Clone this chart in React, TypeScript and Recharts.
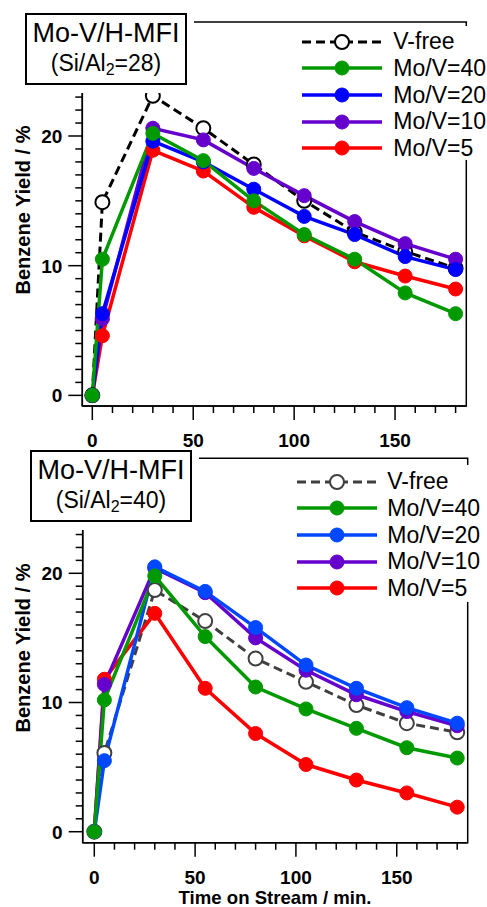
import React from 'react';
import { LineChart, Line, XAxis, YAxis, ReferenceArea } from 'recharts';

// ---------- data ----------
const times = [0, 5, 30, 55, 80, 105, 130, 155, 180];

// Panel A: Si/Al2 = 28
const a_vfree = [0, 14.9, 23.1, 20.6, 17.8, 15.0, 12.6, 11.1, 9.8];
const a_mv40 = [0, 10.5, 20.2, 18.1, 15.0, 12.4, 10.5, 7.9, 6.3];
const a_mv20 = [0, 6.3, 19.6, 18.0, 15.9, 13.8, 12.4, 10.7, 9.7];
const a_mv10 = [0, 5.9, 20.6, 19.7, 17.5, 15.4, 13.4, 11.7, 10.5];
const a_mv5 = [0, 4.6, 18.9, 17.3, 14.5, 12.3, 10.3, 9.2, 8.2];

// Panel B: Si/Al2 = 40
const b_vfree = [0, 6.1, 18.7, 16.3, 13.4, 11.6, 9.8, 8.4, 7.7];
const b_mv40 = [0, 10.2, 19.8, 15.1, 11.2, 9.5, 8.0, 6.5, 5.7];
const b_mv20 = [0, 5.5, 20.5, 18.6, 15.8, 12.9, 11.1, 9.6, 8.4];
const b_mv10 = [0, 11.4, 20.4, 18.5, 15.0, 12.5, 10.6, 9.3, 8.2];
const b_mv5 = [0, 11.8, 16.9, 11.1, 7.6, 5.2, 4.0, 3.0, 1.9];

const xTicks = [0, 10, 20, 30, 40, 50, 60, 70, 80, 90, 100, 110, 120, 130, 140, 150, 160, 170, 180];
const xMajor = [0, 50, 100, 150];
const yTicks = [0, 1, 2, 3, 4, 5, 6, 7, 8, 9, 10, 11, 12, 13, 14, 15, 16, 17, 18, 19, 20, 21, 22, 23];
const yMajor = [0, 10, 20];

const seriesNames = ['V-free', 'Mo/V=40', 'Mo/V=20', 'Mo/V=10', 'Mo/V=5'];
const seriesKeys = ['vfree', 'mv40', 'mv20', 'mv10', 'mv5'];
const colorsA = ['#000000', '#009a00', '#0000ff', '#6600cc', '#ff0000'];
const colorsB = ['#404040', '#009a00', '#0048ff', '#6600cc', '#ff0000'];

const FONT = "'Liberation Sans', Arial, Helvetica, sans-serif";

function buildRows(vf: number[], m40: number[], m20: number[], m10: number[], m5: number[]) {
  return times.map((t, i) => ({ t, vfree: vf[i], mv40: m40[i], mv20: m20[i], mv10: m10[i], mv5: m5[i] }));
}

const rowsA = buildRows(a_vfree, a_mv40, a_mv20, a_mv10, a_mv5);
const rowsB = buildRows(b_vfree, b_mv40, b_mv20, b_mv10, b_mv5);

const SW = 1.5;
const TS = 7;

const YTick = (props: any) => {
  const { x, y, payload } = props;
  const v = payload.value;
  const major = yMajor.includes(v);
  const ax = x + TS;
  return (
    <g>
      <line x1={ax} x2={major ? ax - 2 * TS : ax - TS} y1={y} y2={y} stroke="#000" strokeWidth={SW} />
      {major && (
        <text x={ax - 20} y={y} dy="0.36em" textAnchor="end" fontFamily={FONT} fontWeight="bold" fontSize={19} fill="#000">
          {v}
        </text>
      )}
    </g>
  );
};

const XTick = (props: any) => {
  const { x, y, payload } = props;
  const v = payload.value;
  const major = xMajor.includes(v);
  const ay = y - TS;
  return (
    <g>
      <line x1={x} x2={x} y1={ay} y2={major ? ay + 2 * TS : ay + TS} stroke="#000" strokeWidth={SW} />
      {major && (
        <text x={x} y={ay + 41} textAnchor="middle" fontFamily={FONT} fontWeight="bold" fontSize={19} fill="#000">
          {v}
        </text>
      )}
    </g>
  );
};

type PanelCfg = {
  top: number;
  margin: { top: number; left: number; right: number; bottom: number };
  xDomain: [number, number];
  yDomain: [number, number];
  rows: any[];
  colors: string[];
};

function Panel({ cfg }: { cfg: PanelCfg }) {
  const order = [0, 4, 3, 2, 1];
  return (
    <div style={{ position: 'absolute', left: 0, top: cfg.top }}>
      <LineChart width={487} height={450} data={cfg.rows} margin={cfg.margin}>
        <XAxis
          xAxisId="b"
          dataKey="t"
          type="number"
          domain={cfg.xDomain}
          allowDataOverflow
          ticks={xTicks}
          interval={0}
          tick={XTick}
          tickSize={TS}
          tickMargin={0}
          stroke="#000"
          strokeWidth={SW}
          axisLine={true}
          tickLine={false}
          height={40}
        />
        <YAxis
          yAxisId="l"
          type="number"
          domain={cfg.yDomain}
          allowDataOverflow
          ticks={yTicks}
          interval={0}
          tick={YTick}
          tickSize={TS}
          tickMargin={0}
          stroke="#000"
          strokeWidth={SW}
          axisLine={true}
          tickLine={false}
          width={60}
        />
        <ReferenceArea
          xAxisId="b"
          yAxisId="l"
          x1={cfg.xDomain[0]}
          x2={cfg.xDomain[1]}
          y1={cfg.yDomain[0]}
          y2={cfg.yDomain[1]}
          fill="none"
          fillOpacity={0}
          stroke="#000"
          strokeWidth={SW}
          ifOverflow="visible"
        />
        {order.map((i) => {
          const key = seriesKeys[i];
          const c = cfg.colors[i];
          if (i === 0) {
            return (
              <Line
                key={key}
                xAxisId="b"
                yAxisId="l"
                type="linear"
                dataKey={key}
                stroke={c}
                strokeWidth={3}
                strokeDasharray="9 5"
                dot={{ r: 7, fill: '#fff', stroke: c, strokeWidth: 2, strokeDasharray: '' }}
                activeDot={false}
                isAnimationActive={false}
              />
            );
          }
          return (
            <Line
              key={key}
              xAxisId="b"
              yAxisId="l"
              type="linear"
              dataKey={key}
              stroke={c}
              strokeWidth={3.5}
              dot={{ r: 7, fill: c, stroke: c, strokeWidth: 1 }}
              activeDot={false}
              isAnimationActive={false}
            />
          );
        })}
      </LineChart>
    </div>
  );
}

function TitleBox({ left, top, ratio }: { left: number; top: number; ratio: string }) {
  const w = 162;
  const h = 72;
  return (
    <div style={{ position: 'absolute', left: left - 7, top: top, width: w + 14, height: h + 8, background: '#fff' }}>
      <div style={{ position: 'absolute', left: 7, top: 0, width: w, height: h, border: '2px solid #000', boxSizing: 'border-box' }} />
      <div style={{ position: 'absolute', left: 7, top: 7.4, width: w, textAlign: 'center', fontFamily: FONT, fontSize: 27, lineHeight: '27px', color: '#000', whiteSpace: 'nowrap' }}>
        Mo-V/H-MFI
      </div>
      <div style={{ position: 'absolute', left: 7, top: 38.5, width: w, textAlign: 'center', fontFamily: FONT, fontSize: 23, lineHeight: '23px', color: '#000', whiteSpace: 'nowrap' }}>
        (Si/Al<span style={{ fontSize: 16, position: 'relative', top: 4 }}>2</span>={ratio})
      </div>
    </div>
  );
}

function LegendBox({ lineX1, lineX2, markX, textX, y0, bgTop, bgBottom, colors }: any) {
  const step = 26.65;
  return (
    <div style={{ position: 'absolute', left: 0, top: 0 }}>
      <div style={{ position: 'absolute', left: 290, top: bgTop, width: 197, height: bgBottom - bgTop, background: '#fff' }} />
      {seriesNames.map((name, i) => {
        const cy = y0 + i * step;
        const c = colors[i];
        const dashed = i === 0;
        return (
          <React.Fragment key={name}>
            <svg style={{ position: 'absolute', left: lineX1 - 2, top: cy - 10 }} width={lineX2 - lineX1 + 4} height={20}>
              <line
                x1={2}
                x2={lineX2 - lineX1 + 2}
                y1={10}
                y2={10}
                stroke={c}
                strokeWidth={dashed ? 3 : 3.5}
                strokeDasharray={dashed ? '9 5' : undefined}
              />
              <circle cx={markX - lineX1 + 2} cy={10} r={7} fill={dashed ? '#fff' : c} stroke={c} strokeWidth={dashed ? 2 : 1} />
            </svg>
            <div style={{ position: 'absolute', left: textX, top: cy - 11.3, fontFamily: FONT, fontSize: 23, lineHeight: '23px', color: '#000', whiteSpace: 'nowrap' }}>
              {name}
            </div>
          </React.Fragment>
        );
      })}
    </div>
  );
}

function YTitle({ cx, cy }: { cx: number; cy: number }) {
  return (
    <div
      style={{
        position: 'absolute',
        left: cx - 110,
        top: cy - 10,
        width: 220,
        height: 20,
        textAlign: 'center',
        fontFamily: FONT,
        fontWeight: 'bold',
        fontSize: 20,
        lineHeight: '20px',
        transform: 'rotate(-90deg)',
        transformOrigin: '110px 10px',
        whiteSpace: 'nowrap',
        color: '#000',
      }}
    >
      Benzene Yield / %
    </div>
  );
}

const panelA: PanelCfg = {
  top: 0,
  margin: { top: 22, left: 22.3, right: 20.7, bottom: 4 },
  xDomain: [-4.96, 185.3],
  yDomain: [-0.82, 28.79],
  rows: rowsA,
  colors: colorsA,
};

const panelB: PanelCfg = {
  top: 437,
  margin: { top: 21.3, left: 22.7, right: 19.3, bottom: 4.3 },
  xDomain: [-5.75, 185.2],
  yDomain: [-0.85, 28.9],
  rows: rowsB,
  colors: colorsB,
};

export default function App() {
  return (
    <div style={{ position: 'absolute', left: 0, top: 0, width: 487, height: 907, overflow: 'hidden', background: '#fff' }}>
      <Panel cfg={panelA} />
      <Panel cfg={panelB} />
      <TitleBox left={25} top={13} ratio="28" />
      <TitleBox left={30} top={450} ratio="40" />
      <LegendBox lineX1={301.7} lineX2={381.7} markX={341.7} textX={393.3} y0={41.7} bgTop={26} bgBottom={160} colors={colorsA} />
      <LegendBox lineX1={296.7} lineX2={376.7} markX={336.7} textX={387.3} y0={481.7} bgTop={465} bgBottom={601.7} colors={colorsB} />
      <YTitle cx={23} cy={210} />
      <YTitle cx={23} cy={648} />
      <div style={{ position: 'absolute', left: 175, top: 888.5, width: 200, textAlign: 'center', fontFamily: FONT, fontWeight: 'bold', fontSize: 18.6, lineHeight: '18.6px', whiteSpace: 'nowrap', color: '#000' }}>
        Time on Stream / min.
      </div>
    </div>
  );
}
